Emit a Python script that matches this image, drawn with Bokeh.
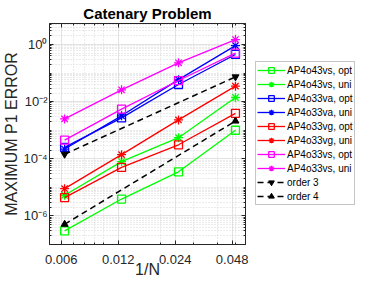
from bokeh.plotting import figure
from bokeh.layouts import row
from bokeh.models import (FixedTicker, LogAxis, Legend, LegendItem,
                          CustomJSTickFormatter, Range1d)
from bokeh.embed import file_html
from bokeh.resources import INLINE

# ---------------- data ----------------
h = [1/160, 1/80, 1/40, 1/20]
ap4o43vs_opt = [3.0e-7, 3.9e-6, 3.5e-5, 1.0e-3]
ap4o43vs_uni = [5.3e-6, 8.0e-5, 5.5e-4, 1.4e-2]
ap4o33va_opt = [2.5e-4, 2.7e-3, 4.0e-2, 0.45]
ap4o33va_uni = [2.2e-4, 3.2e-3, 5.9e-2, 0.92]
ap4o33vg_opt = [4.4e-6, 5.0e-5, 3.1e-4, 3.9e-3]
ap4o33vg_uni = [9.0e-6, 1.4e-4, 2.3e-3, 3.5e-2]
ap4o33vs_opt = [4.5e-4, 5.5e-3, 5.5e-2, 0.50]
ap4o33vs_uni = [2.5e-3, 2.6e-2, 0.23, 1.5]
order_x = [1/160, 1/20]
order3 = [1.45e-4, 7.4e-2]
order4 = [5.1e-7, 2.1e-3]

x_ticks = [0.006, 0.012, 0.024, 0.048]
x_minor = [0.005, 0.006, 0.007, 0.008, 0.009, 0.01, 0.02, 0.03, 0.04, 0.05, 0.06]
y_ticks = [1e-6, 1e-4, 1e-2, 1e0]
y_minor = [k * 10.0**e for e in range(-7, 1) for k in range(1, 10)]

series = [
    ("AP4o43vs, opt", ap4o43vs_opt, "#00ff00", "square"),
    ("AP4o43vs, uni", ap4o43vs_uni, "#00ff00", "asterisk"),
    ("AP4o33va, opt", ap4o33va_opt, "#0000ff", "square"),
    ("AP4o33va, uni", ap4o33va_uni, "#0000ff", "asterisk"),
    ("AP4o33vg, opt", ap4o33vg_opt, "#ff0000", "square"),
    ("AP4o33vg, uni", ap4o33vg_uni, "#ff0000", "asterisk"),
    ("AP4o33vs, opt", ap4o33vs_opt, "#ff00ff", "square"),
    ("AP4o33vs, uni", ap4o33vs_uni, "#ff00ff", "asterisk"),
]
orders = [("order 3", order3, "inverted_triangle"),
          ("order 4", order4, "triangle")]

FONT = "Liberation Sans"
AXC = "#262626"

p = figure(frame_width=196, frame_height=221, x_axis_type="log", y_axis_type="log",
           x_range=Range1d(0.0052, 0.0565), y_range=Range1d(1e-7, 5.46),
           output_backend="svg", toolbar_location=None,
           min_border_left=44, min_border_top=19, min_border_bottom=0,
           min_border_right=4)
p.title.text = "Catenary Problem"
p.title.align = "center"
p.title.text_font = FONT
p.title.text_font_size = "15px"
p.title.text_font_style = "bold"
p.title.text_color = "#000000"
p.title.standoff = 4
p.outline_line_color = AXC

xt = FixedTicker(ticks=x_ticks, minor_ticks=x_minor)
yt = FixedTicker(ticks=y_ticks, minor_ticks=y_minor)

xfmt = CustomJSTickFormatter(code="return tick.toFixed(3);")
yfmt = CustomJSTickFormatter(code="""
const e = Math.round(Math.log10(tick));
const sup = {'-':'\u207b','0':'\u2070','1':'\u00b9','2':'\u00b2','3':'\u00b3',
             '4':'\u2074','5':'\u2075','6':'\u2076','7':'\u2077','8':'\u2078','9':'\u2079'};
return '10' + String(e).split('').map(c => sup[c]).join('');
""")
blank = CustomJSTickFormatter(code="return '';")

def style_axis(ax):
    ax.axis_line_color = AXC
    ax.major_tick_line_color = AXC
    ax.minor_tick_line_color = AXC
    ax.major_tick_in = 4
    ax.major_tick_out = 0
    ax.minor_tick_in = 2
    ax.minor_tick_out = 0
    ax.major_label_text_color = AXC
    ax.major_label_text_font = FONT
    ax.axis_label_text_color = AXC
    ax.axis_label_text_font = FONT
    ax.axis_label_text_font_style = "normal"

xa = p.xaxis[0]
xa.ticker = xt
xa.formatter = xfmt
xa.axis_label = "1/N"
style_axis(xa)
xa.major_label_text_font_size = "13px"
xa.axis_label_text_font_size = "16px"
xa.major_label_standoff = 10
xa.axis_label_standoff = -6

ya = p.yaxis[0]
ya.ticker = yt
ya.formatter = yfmt
ya.axis_label = "MAXIMUM P1 ERROR"
style_axis(ya)
ya.major_label_text_font_size = "13px"
ya.axis_label_text_font_size = "16px"
ya.major_label_standoff = 2
ya.axis_label_standoff = 0

top = LogAxis(ticker=xt, formatter=blank, major_label_text_font_size="0px",
              major_label_standoff=0)
style_axis(top)
p.add_layout(top, "above")
right = LogAxis(ticker=yt, formatter=blank, major_label_text_font_size="0px",
                major_label_standoff=0)
style_axis(right)
p.add_layout(right, "right")

for g in (p.xgrid[0], p.ygrid[0]):
    g.grid_line_color = "#e2e2e2"
    g.grid_line_width = 1
    g.minor_grid_line_color = "#d6d6d6"
    g.minor_grid_line_dash = "1 2"
p.xgrid[0].ticker = xt
p.ygrid[0].ticker = yt

# legend figure: same glyphs, drawn outside its visible range, only the legend shows
lf = figure(width=114, height=270, x_axis_type="log", y_axis_type="log",
            x_range=Range1d(0.0052, 0.0565), y_range=Range1d(100, 1000),
            output_backend="svg", toolbar_location=None,
            x_axis_location=None, y_axis_location=None,
            min_border_left=6, min_border_right=0, min_border_top=0,
            min_border_bottom=0)
lf.outline_line_color = None
lf.xgrid.visible = False
lf.ygrid.visible = False

def draw(fig, xs, ys, col, mk):
    ln = fig.line(xs, ys, line_color=col, line_width=1.3)
    if mk == "square":
        sc = fig.scatter(xs, ys, marker="square", size=8, line_color=col,
                         fill_color=None, line_width=1.3)
    else:
        sc = fig.scatter(xs, ys, marker="asterisk", size=9, line_color=col,
                         line_width=1.3)
    return ln, sc

def draw_order(fig, ys, mk):
    ln = fig.line(order_x, ys, line_color="black", line_width=1.5, line_dash="6 4")
    sc = fig.scatter(order_x, ys, marker=mk, size=7, line_color="black",
                     fill_color="black")
    return ln, sc

items = []
for name, ys, col, mk in series:
    draw(p, h, ys, col, mk)
    ln, sc = draw(lf, h, ys, col, mk)
    items.append(LegendItem(label=name, renderers=[ln, sc]))
for name, ys, mk in orders:
    draw_order(p, ys, mk)
    ln, sc = draw_order(lf, ys, mk)
    items.append(LegendItem(label=name, renderers=[ln, sc]))

leg = Legend(items=items, location=(0, 29))
leg.label_text_font = FONT
leg.label_text_font_size = "10px"
leg.label_text_color = "#000000"
leg.glyph_width = 28
leg.glyph_height = 14
leg.label_height = 13
leg.label_standoff = 2
leg.spacing = -1
leg.padding = 1
leg.margin = 0
leg.border_line_color = "#8c8c8c"
leg.border_line_width = 1
leg.background_fill_color = "white"
lf.add_layout(leg, "center")

layout = row(p, lf, spacing=0)
open("out.html", "w").write(file_html(layout, INLINE))
